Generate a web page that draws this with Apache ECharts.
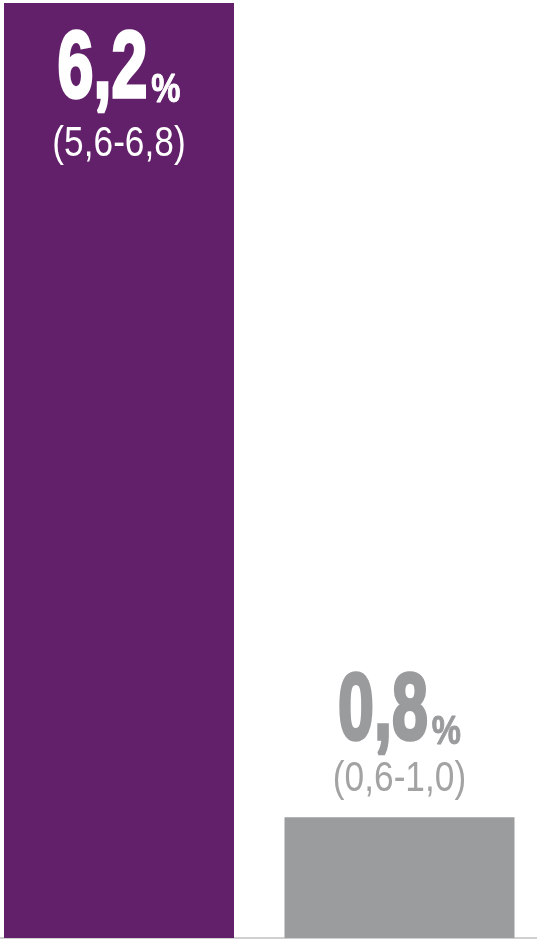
<!DOCTYPE html>
<html>
<head>
<meta charset="utf-8">
<script src="https://cdn.jsdelivr.net/npm/echarts@6/dist/echarts.min.js"></script>
<style>
html,body{margin:0;padding:0;background:#fff;}
#c{width:537px;height:941px;}
</style>
</head>
<body>
<div id="c"></div>
<script>
const categories = ['Grupo A', 'Grupo B'];
const values = [6.2, 0.8];
const valueLabels = ['6,2', '0,8'];
const rangeLabels = ['(5,6-6,8)', '(0,6-1,0)'];

const barColors = ['#621f6a', '#9b9c9e'];
const bigColors = ['#ffffff', '#9a9b9d'];
const rangeColors = ['#ffffff', '#a3a3a3'];
const FONT = '"Liberation Sans", Arial, sans-serif';

const BIG_SIZE = 95, BIG_SCALE = 0.68, PCT_SIZE = 41, PCT_SCALE = 0.8, RANGE_SIZE = 43, RANGE_SCALE = 0.82;
const mctx = document.createElement('canvas').getContext('2d');
function measure(text, font) { mctx.font = font; return mctx.measureText(text).width; }

const chart = echarts.init(document.getElementById('c'));
chart.setOption({
  animation: false,
  grid: { left: -21.25, right: -2.75, top: 3, bottom: 3, containLabel: false, outerBoundsMode: 'none' },
  xAxis: {
    type: 'category', data: categories, boundaryGap: true,
    axisLine: { show: true, lineStyle: { color: '#d0d0d0', width: 2 } },
    axisTick: { show: false }, axisLabel: { show: false }, splitLine: { show: false }
  },
  yAxis: { type: 'value', min: 0, max: 6.2, show: false, splitLine: { show: false } },
  series: [
    {
      type: 'bar', barWidth: 230, silent: true,
      data: values.map((v, i) => ({ value: v, itemStyle: { color: barColors[i] } }))
    },
    {
      type: 'custom', z: 5, silent: true,
      data: values.map((v, i) => [i, v]),
      renderItem: function (params, api) {
        const i = api.value(0);
        const v = api.value(1);
        const top = api.coord([i, v]);
        const base = api.coord([i, 0]);
        const cx = top[0], ty = top[1];
        const inside = (base[1] - ty) > 300;
        const bigY = inside ? ty + 68 : ty - 105;
        const rangeY = inside ? ty + 141 : ty - 38;
        const bigFont = 'bold ' + BIG_SIZE + 'px ' + FONT;
        const pctFont = 'bold ' + PCT_SIZE + 'px ' + FONT;
        const wBig = measure(valueLabels[i], bigFont) * BIG_SCALE;
        const wPct = measure('%', pctFont) * PCT_SCALE;
        const gap = 4;
        const total = wBig + gap + wPct;
        const left = cx - total / 2;
        return {
          type: 'group',
          children: [
            {
              type: 'text', x: left, y: bigY, scaleX: BIG_SCALE, scaleY: 1,
              style: {
                text: valueLabels[i], x: 0, y: 0, fill: bigColors[i],
                stroke: bigColors[i], lineWidth: 3.5,
                font: bigFont, align: 'left', verticalAlign: 'middle'
              }
            },
            {
              type: 'text', x: left + wBig + gap, y: bigY + 20, scaleX: PCT_SCALE, scaleY: 1,
              style: {
                text: '%', x: 0, y: 0, fill: bigColors[i],
                stroke: bigColors[i], lineWidth: 1,
                font: pctFont, align: 'left', verticalAlign: 'middle'
              }
            },
            {
              type: 'text', x: cx, y: rangeY, scaleX: RANGE_SCALE, scaleY: 1,
              style: {
                text: rangeLabels[i], x: 0, y: 0, fill: rangeColors[i],
                font: RANGE_SIZE + 'px ' + FONT, align: 'center', verticalAlign: 'middle'
              }
            }
          ]
        };
      }
    }
  ]
});
</script>
</body>
</html>
